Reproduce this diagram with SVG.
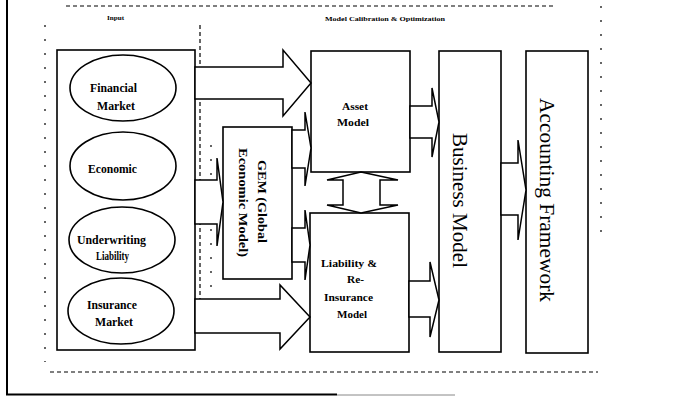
<svg xmlns="http://www.w3.org/2000/svg" width="680" height="397" viewBox="0 0 680 397">
<style>
.box{fill:#fff;stroke:#000;stroke-width:1.6}
.arr{fill:#fff;stroke:#000;stroke-width:1.5;stroke-linejoin:miter}
.dash{fill:none;stroke:#000;stroke-width:1.2;stroke-dasharray:4 3}
.sparse{fill:none;stroke:#000;stroke-width:1.2;stroke-dasharray:2 12}
.lbl{font-family:"Liberation Serif","Times New Roman",serif;font-weight:bold;font-size:12.5px;fill:#000}
.mdl{font-family:"Liberation Serif","Times New Roman",serif;font-weight:bold;font-size:11px;fill:#000}
.small{font-family:"Liberation Serif","Times New Roman",serif;font-weight:bold;font-size:7px;fill:#000}
.big{font-family:"Liberation Serif","Times New Roman",serif;font-size:21px;fill:#000}
.gem{font-family:"Liberation Serif","Times New Roman",serif;font-weight:bold;font-size:12px;fill:#000}
</style>
<rect width="680" height="397" fill="#fff"/>
<g id="frame">
<line x1="7" y1="0" x2="7" y2="395" stroke="#000" stroke-width="2"/>
<line x1="6" y1="394.5" x2="337" y2="394.5" stroke="#000" stroke-width="2"/>
<line x1="337" y1="395" x2="455" y2="395" stroke="#888" stroke-width="1"/>
<line class="dash" x1="66" y1="6" x2="555" y2="6"/>
<line class="sparse" x1="601" y1="6" x2="601" y2="240"/>
<line class="sparse" x1="45" y1="25" x2="45" y2="362"/>
<line class="dash" x1="50" y1="372" x2="598" y2="372"/>
<line class="dash" x1="200" y1="25" x2="200" y2="300"/>
<line class="sparse" x1="211" y1="145" x2="211" y2="300"/>
<text class="small" x="107" y="20" textLength="17" lengthAdjust="spacingAndGlyphs">Input</text>
<text class="small" x="325" y="21" textLength="120" lengthAdjust="spacingAndGlyphs">Model Calibration &amp; Optimization</text>
</g>
<g id="input">
<rect class="box" x="57" y="50" width="138" height="300"/>
</g>
<g id="financial-market">
<ellipse class="box" cx="123" cy="88" rx="53" ry="33"/>
<text class="lbl" x="90" y="92" textLength="47" lengthAdjust="spacingAndGlyphs">Financial</text>
<text class="lbl" x="97" y="110" textLength="38" lengthAdjust="spacingAndGlyphs">Market</text>
</g>
<g id="economic">
<ellipse class="box" cx="123" cy="166" rx="53" ry="34"/>
<text class="lbl" x="88" y="173" textLength="49" lengthAdjust="spacingAndGlyphs">Economic</text>
</g>
<g id="underwriting-liability">
<ellipse class="box" cx="122" cy="240" rx="53" ry="33"/>
<text class="lbl" x="77" y="244" textLength="69" lengthAdjust="spacingAndGlyphs">Underwriting</text>
<text class="lbl" x="96" y="260" textLength="33" lengthAdjust="spacingAndGlyphs">Liability</text>
</g>
<g id="insurance-market">
<ellipse class="box" cx="121" cy="311" rx="53" ry="33"/>
<text class="lbl" x="87" y="309" textLength="50" lengthAdjust="spacingAndGlyphs">Insurance</text>
<text class="lbl" x="95" y="326" textLength="38" lengthAdjust="spacingAndGlyphs">Market</text>
</g>
<g id="gem">
<rect class="box" x="223" y="127" width="69" height="152"/>
<text class="gem" transform="translate(258,160) rotate(90)" textLength="83" lengthAdjust="spacingAndGlyphs">GEM (Global</text>
<text class="gem" transform="translate(239,148) rotate(90)" textLength="109" lengthAdjust="spacingAndGlyphs">Economic Model)</text>
</g>
<g id="asset-model">
<rect class="box" x="311" y="51" width="99" height="121"/>
<text class="mdl" x="342" y="110" textLength="26" lengthAdjust="spacingAndGlyphs">Asset</text>
<text class="mdl" x="337" y="126" textLength="32" lengthAdjust="spacingAndGlyphs">Model</text>
</g>
<g id="liability-model">
<rect class="box" x="310" y="213" width="99" height="139"/>
<text class="mdl" x="321" y="267" textLength="56" lengthAdjust="spacingAndGlyphs">Liability &amp;</text>
<text class="mdl" x="347" y="283" textLength="17" lengthAdjust="spacingAndGlyphs">Re-</text>
<text class="mdl" x="324" y="301" textLength="49" lengthAdjust="spacingAndGlyphs">Insurance</text>
<text class="mdl" x="337" y="318" textLength="30" lengthAdjust="spacingAndGlyphs">Model</text>
</g>
<g id="business-model">
<rect class="box" x="439" y="51" width="62" height="301"/>
<text class="big" transform="translate(453,133) rotate(90)" textLength="135" lengthAdjust="spacingAndGlyphs">Business Model</text>
</g>
<g id="accounting-framework">
<rect class="box" x="526" y="51" width="62" height="302"/>
<text class="big" transform="translate(540,98) rotate(90)" textLength="204" lengthAdjust="spacingAndGlyphs">Accounting Framework</text>
</g>
<g id="connectors">
<polygon class="arr" points="195,67 283,67 283,50 311,83 283,116 283,99 195,99"/>
<polygon class="arr" points="195,299 280,299 280,285 310,317 280,349 280,333 195,333"/>
<polygon class="arr" points="195,180 217,180 217,158 223,202 217,246 217,224 195,224"/>
<polygon class="arr" points="292,130 305,130 305,112 311,148 305,186 305,168 292,168"/>
<polygon class="arr" points="292,228 305,228 305,210 310,245 305,280 305,262 292,262"/>
<polygon class="arr" points="410,106 432,106 432,88 439,122 432,157 432,138 410,138"/>
<polygon class="arr" points="409,281 430,281 430,262 439,300 430,337 430,317 409,317"/>
<polygon class="arr" points="501,163 518,163 518,140 526,190 518,240 518,215 501,215"/>
<polygon class="arr" points="361,172 398,180 380,180 380,205 398,205 361,213 327,205 343,205 343,180 327,180"/>
</g>
</svg>
